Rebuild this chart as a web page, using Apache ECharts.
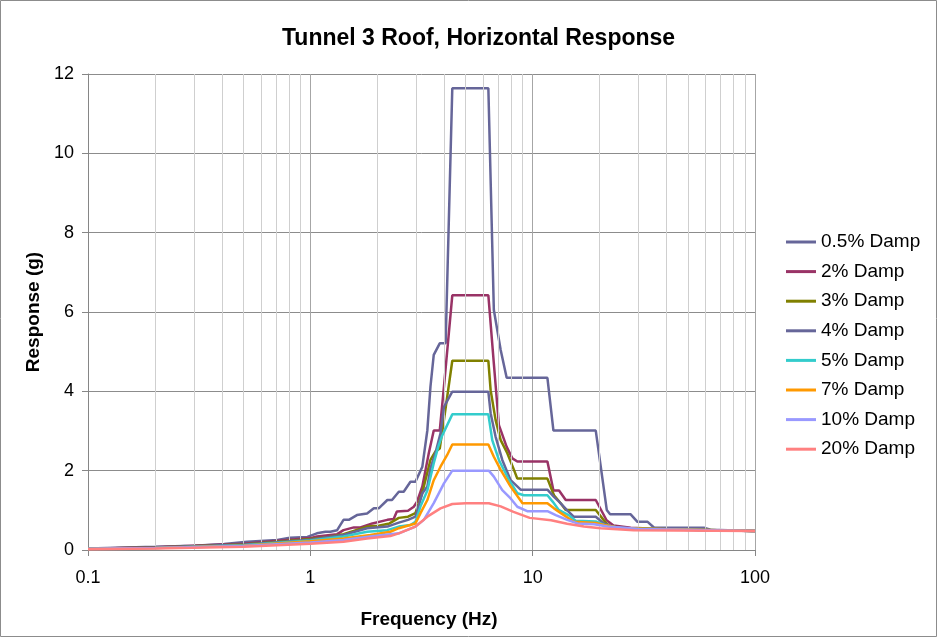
<!DOCTYPE html>
<html>
<head>
<meta charset="utf-8">
<script src="https://cdn.jsdelivr.net/npm/echarts@6/dist/echarts.min.js"></script>
<style>
  html, body { margin: 0; padding: 0; background: #fff; }
  #main { width: 939px; height: 641px; }
</style>
</head>
<body>
<div id="main"></div>
<script>
// damping levels shown in the legend
var dampNames = ['0.5% Damp', '2% Damp', '3% Damp', '4% Damp', '5% Damp', '7% Damp', '10% Damp', '20% Damp'];
var dampColors = ['#666699', '#993366', '#808000', '#666699', '#33CCCC', '#FF9900', '#9999FF', '#FF8080'];

// [frequency Hz, response g]
var damp05 = [[0.1,0.04],[0.2,0.08],[0.3,0.11],[0.41,0.15],[0.52,0.21],[0.71,0.25],[0.81,0.31],[0.97,0.33],
  [1.07,0.42],[1.17,0.46],[1.23,0.46],[1.32,0.50],[1.41,0.76],[1.49,0.76],[1.62,0.88],[1.80,0.92],[1.93,1.05],
  [2.03,1.05],[2.22,1.26],[2.33,1.26],[2.50,1.47],[2.63,1.47],[2.82,1.72],[2.97,1.72],[3.19,2.10],[3.36,3.02],
  [3.47,4.12],[3.59,4.92],[3.82,5.21],[4.06,5.21],[4.35,11.64],[6.32,11.64],[6.69,6.05],[7.18,5.04],[7.64,4.34],
  [11.65,4.34],[12.40,3.01],[19.22,3.01],[21.54,1.01],[22.3,0.90],[27.6,0.90],[29.6,0.71],[32.9,0.71],[35.2,0.56],
  [58.9,0.56],[63,0.51],[100,0.48]];
var damp2 = [[0.1,0.03],[0.2,0.07],[0.5,0.16],[1.0,0.30],[1.07,0.34],[1.32,0.40],[1.41,0.50],[1.57,0.57],[1.68,0.57],
  [1.90,0.67],[2.22,0.76],[2.37,0.78],[2.45,0.97],[2.75,0.99],[2.92,1.09],[3.02,1.22],[3.19,1.60],[3.41,2.44],
  [3.59,3.01],[3.82,3.01],[3.99,4.12],[4.35,6.42],[6.32,6.42],[6.69,4.70],[7.05,3.15],[7.64,2.60],[8.10,2.31],
  [8.53,2.23],[11.65,2.23],[12.40,1.50],[13.14,1.50],[14.08,1.26],[19.22,1.26],[21.5,0.75],[23.1,0.62],[27.6,0.56],
  [40,0.52],[100,0.48]];
var damp3 = [[0.1,0.03],[0.2,0.06],[0.5,0.14],[1.0,0.28],[1.2,0.33],[1.41,0.40],[1.80,0.59],[2.03,0.61],[2.27,0.67],
  [2.50,0.81],[2.75,0.84],[2.97,0.93],[3.19,1.45],[3.47,2.27],[3.65,2.48],[3.82,2.56],[3.99,3.28],[4.35,4.77],
  [6.32,4.77],[6.47,4.03],[6.81,3.28],[7.18,2.77],[7.69,2.44],[8.24,2.02],[8.53,1.80],[11.65,1.80],[12.47,1.38],
  [13.37,1.18],[14.08,1.01],[19.22,1.01],[21.3,0.69],[22.4,0.59],[27,0.54],[100,0.48]];
var damp4 = [[0.1,0.03],[0.2,0.06],[0.5,0.13],[1.0,0.26],[1.41,0.38],[1.80,0.55],[2.22,0.59],[2.50,0.69],[2.75,0.76],
  [2.97,0.84],[3.19,1.43],[3.36,1.60],[3.47,2.06],[3.65,2.44],[3.85,2.94],[3.99,3.61],[4.35,3.99],[6.32,3.99],
  [6.47,3.45],[6.81,2.86],[7.30,2.27],[7.96,1.76],[8.83,1.52],[11.65,1.52],[12.47,1.34],[13.14,1.22],[14.3,1.00],
  [15.3,0.84],[19.22,0.84],[20.9,0.67],[23,0.58],[30,0.53],[100,0.48]];
var damp5 = [[0.1,0.03],[0.2,0.05],[0.5,0.12],[1.0,0.24],[1.41,0.34],[1.80,0.46],[2.22,0.50],[2.50,0.59],[2.82,0.63],
  [2.97,0.71],[3.13,1.10],[3.36,1.50],[3.59,2.19],[3.76,2.60],[3.90,2.86],[4.35,3.42],[6.32,3.42],[6.58,2.77],
  [7.05,2.27],[7.83,1.76],[8.53,1.43],[9.13,1.38],[11.65,1.38],[12.3,1.22],[13.1,1.01],[14.5,0.88],[15.6,0.74],
  [19.22,0.72],[21,0.63],[25,0.55],[100,0.48]];
var damp7 = [[0.1,0.03],[0.2,0.05],[0.5,0.11],[1.0,0.22],[1.41,0.29],[1.86,0.38],[2.29,0.46],[2.50,0.55],[2.97,0.67],
  [3.13,0.93],[3.36,1.26],[3.59,1.76],[3.85,2.10],[4.12,2.39],[4.35,2.66],[6.32,2.66],[6.69,2.35],[7.18,2.02],
  [7.96,1.60],[9.0,1.18],[11.65,1.18],[12.47,1.05],[13.4,0.93],[15.3,0.71],[19.22,0.68],[21,0.63],[25,0.55],
  [100,0.48]];
var damp10 = [[0.1,0.03],[0.2,0.05],[0.5,0.10],[1.0,0.19],[1.41,0.25],[1.86,0.34],[2.50,0.42],[2.97,0.59],[3.24,0.76],
  [3.59,1.18],[3.99,1.68],[4.35,2.00],[6.35,2.00],[6.69,1.85],[7.30,1.51],[7.96,1.30],[8.53,1.09],[9.45,0.98],
  [11.65,0.98],[12.7,0.88],[14.3,0.76],[15.9,0.67],[18.9,0.65],[21.7,0.59],[30,0.53],[100,0.48]];
var damp20 = [[0.1,0.02],[0.2,0.04],[0.5,0.08],[1.0,0.16],[1.41,0.21],[1.80,0.29],[2.29,0.35],[2.50,0.42],[2.97,0.59],
  [3.36,0.84],[3.85,1.05],[4.35,1.16],[5.0,1.18],[6.35,1.18],[7.18,1.10],[8.2,0.96],[9.7,0.81],[12.1,0.75],
  [14.3,0.66],[17.0,0.59],[20.2,0.55],[28.5,0.50],[100,0.48]];
var dampData = [damp05, damp2, damp3, damp4, damp5, damp7, damp10, damp20];

// minor log gridlines (2..9 in each decade)
var minorGrid = [0.2,0.3,0.4,0.5,0.6,0.7,0.8,0.9,2,3,4,5,6,7,8,9,20,30,40,50,60,70,80,90];

var myChart = echarts.init(document.getElementById('main'));
var font = 'Liberation Sans, Arial, sans-serif';

var series = [{
    name: 'minor',
    type: 'line',
    data: [],
    z: 0,
    silent: true,
    markLine: {
        silent: true,
        symbol: 'none',
        animation: false,
        label: { show: false },
        lineStyle: { color: '#cfcfcf', width: 1, type: 'solid' },
        data: minorGrid.map(function (v) { return { xAxis: v }; })
    }
}];
dampNames.forEach(function (name, i) {
    series.push({
        name: name,
        type: 'line',
        data: dampData[i],
        symbol: 'none',
        z: 2 + i,
        lineStyle: { color: dampColors[i], width: 2.5 },
        itemStyle: { color: dampColors[i] },
        animation: false
    });
});

option = {
    backgroundColor: '#fff',
    animation: false,
    title: {
        text: 'Tunnel 3 Roof, Horizontal Response',
        left: 277,
        top: 22,
        textStyle: { fontFamily: font, fontSize: 23, fontWeight: 'bold', color: '#000' }
    },
    graphic: [{
        type: 'rect',
        shape: { x: 0.5, y: 0.5, width: 936, height: 636 },
        style: { fill: 'none', stroke: '#8c8c8c', lineWidth: 1 },
        silent: true
    }],
    legend: {
        orient: 'vertical',
        left: 781,
        top: 227,
        data: dampNames,
        icon: 'rect',
        itemWidth: 30,
        itemHeight: 3,
        itemGap: 9.6,
        textStyle: { fontFamily: font, fontSize: 19, lineHeight: 20, color: '#000' }
    },
    grid: { left: 88, right: 184, top: 74, bottom: 91 },
    xAxis: {
        type: 'log',
        logBase: 10,
        min: 0.1,
        max: 100,
        name: 'Frequency (Hz)',
        nameLocation: 'middle',
        nameGap: 60,
        nameTextStyle: { fontFamily: font, fontSize: 19, fontWeight: 'bold', color: '#000', padding: [0, 0, 0, 15] },
        axisLine: { lineStyle: { color: '#868686', width: 1 } },
        axisTick: { show: true, length: 6, lineStyle: { color: '#868686' } },
        axisLabel: {
            fontFamily: font, fontSize: 18, color: '#000', margin: 19,
            formatter: function (v) { return String(Math.round(v * 10) / 10); }
        },
        splitLine: { show: true, lineStyle: { color: '#a6a6a6', width: 1 } }
    },
    yAxis: {
        type: 'value',
        min: 0,
        max: 12,
        interval: 2,
        name: 'Response (g)',
        nameLocation: 'middle',
        nameGap: 45,
        nameTextStyle: { fontFamily: font, fontSize: 19, fontWeight: 'bold', color: '#000' },
        axisLine: { show: true, lineStyle: { color: '#868686', width: 1 } },
        axisTick: { show: true, length: 6, lineStyle: { color: '#868686' } },
        axisLabel: { fontFamily: font, fontSize: 18, color: '#000', margin: 14 },
        splitLine: { show: true, lineStyle: { color: '#8c8c8c', width: 1 } }
    },
    series: series
};
myChart.setOption(option);
</script>
</body>
</html>
